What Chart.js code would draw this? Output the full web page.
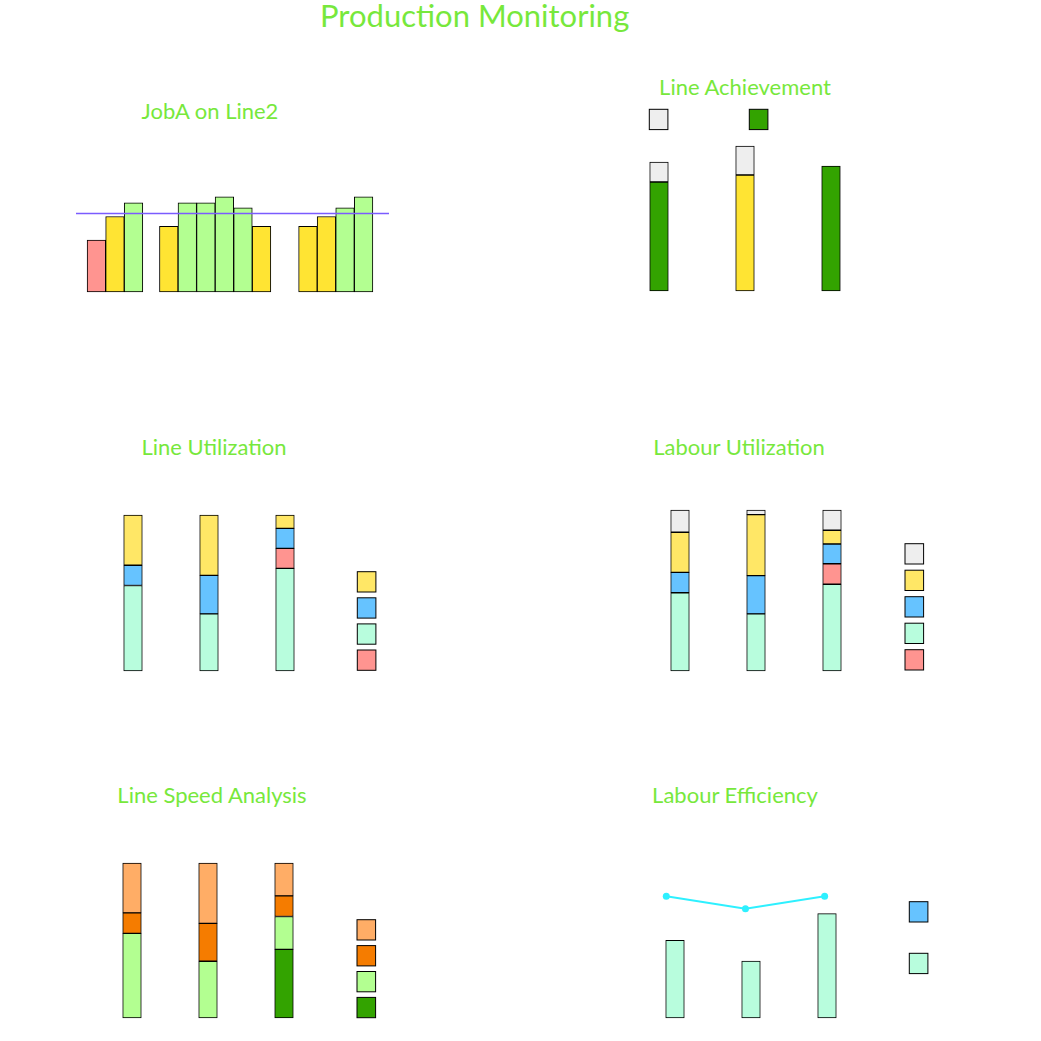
<!DOCTYPE html>
<html>
<head>
<meta charset="utf-8">
<title>Production Monitoring</title>
<script src="https://cdn.jsdelivr.net/npm/chart.js@4.4.1/dist/chart.umd.min.js"></script>
<style>
  html, body { margin: 0; padding: 0; background: #fff; }
  body { width: 1041px; height: 1041px; position: relative; overflow: hidden; font-family: Lato, "DejaVu Sans", sans-serif; }
  .title { position: absolute; color: #77e83c; text-align: center; white-space: nowrap; line-height: 1; width: 300px; }
  .sub { font-size: 22px; }
  .panel { position: absolute; }
</style>
</head>
<body>
<div class="title" style="left:320px;top:0px;font-size:31px;">Production Monitoring</div>
<div class="title sub" style="left:60px;top:100px;">JobA on Line2</div>
<div class="title sub" style="left:595px;top:76px;">Line Achievement</div>
<div class="title sub" style="left:64px;top:436px;">Line Utilization</div>
<div class="title sub" style="left:589px;top:436px;">Labour Utilization</div>
<div class="title sub" style="left:62px;top:784px;">Line Speed Analysis</div>
<div class="title sub" style="left:585px;top:784px;">Labour Efficiency</div>

<div class="panel" style="left:72px;top:190px;width:321px;height:106px"><canvas id="jobChart"></canvas></div>
<div class="panel" style="left:612px;top:104px;width:266px;height:191px"><canvas id="achieveChart"></canvas></div>
<div class="panel" style="left:91px;top:511px;width:289px;height:164px"><canvas id="utilChart"></canvas></div>
<div class="panel" style="left:638px;top:506px;width:290px;height:169px"><canvas id="labourChart"></canvas></div>
<div class="panel" style="left:90px;top:859px;width:290px;height:163px"><canvas id="speedChart"></canvas></div>
<div class="panel" style="left:633px;top:858px;width:299px;height:164px"><canvas id="effChart"></canvas></div>

<script>
/* =========================
   Data
========================= */
// JobA on Line2 (% of standard per run slot)
const jobSlots = [0, 1, 2, 3.9, 4.9, 5.9, 6.9, 7.9, 8.9, 11.4, 12.4, 13.4, 14.4];
const jobValues = [53, 77, 91, 67, 91, 91, 97, 86, 67, 67, 77, 86, 97];
const jobTarget = 80;
const jobXRange = [-1.1, 15.77];

// Line Achievement
const achieveLines = ["Line1", "Line2", "Line3"];
const achieveActual = [109, 116, 125];
const achieveShort = [20, 29, 0];

// Line Utilization (%)
const utilLines = ["Line1", "Line2", "Line3"];
const utilRunning = [54.8, 36.6, 65.8];
const utilBreakdown = [0, 0, 12.8];
const utilChangeover = [13.0, 24.7, 12.8];
const utilIdle = [32.2, 38.7, 8.6];

// Labour Utilization (%)
const labourLines = ["Line1", "Line2", "Line3"];
const labourWorking = [48.6, 35.5, 53.9];
const labourBreakdown = [0, 0, 12.7];
const labourChangeover = [12.7, 23.7, 12.3];
const labourIdle = [24.9, 37.9, 8.5];
const labourAbsent = [13.8, 2.9, 12.6];

// Line Speed Analysis (%)
const speedLines = ["Line1", "Line2", "Line3"];
const speedFull = [0, 0, 44.3];
const speedHigh = [54.6, 36.6, 21.2];
const speedLow = [13.2, 24.4, 13.3];
const speedSlow = [32.2, 39.0, 21.2];

// Labour Efficiency
const effLines = ["Line1", "Line2", "Line3"];
const effOutput = [49.8, 36.5, 66.9];
const effRate = [78, 70, 78];
const effXRange = [-0.37, 2.51];

/* =========================
   Colours
========================= */
const C = {
  red: "#ff9490",
  yellow: "#ffe433",
  paleYellow: "#ffe766",
  blue: "#66c3ff",
  mint: "#b8fddd",
  grey: "#eeeeee",
  green: "#33a300",
  lightGreen: "#b3ff91",
  lightOrange: "#ffad66",
  orange: "#f57c00",
  cyan: "#2ef0ff",
  violet: "#7b5cff"
};

function jobColor(v) {
  if (v < 60) return C.red;
  if (v < jobTarget) return C.yellow;
  return C.lightGreen;
}

/* =========================
   Square legend (no text)
========================= */
const boxLegend = {
  id: "boxLegend",
  afterDraw(chart, args, opts) {
    if (!opts.items) return;
    const ctx = chart.ctx;
    ctx.save();
    opts.items.forEach((di, k) => {
      const ds = chart.data.datasets[di];
      const x = opts.x + k * (opts.dx || 0);
      const y = opts.y + k * (opts.dy || 0);
      ctx.fillStyle = ds.legendColor || ds.backgroundColor;
      ctx.fillRect(x, y, 18.6, 20.3);
      ctx.strokeStyle = "#000";
      ctx.lineWidth = 1;
      ctx.strokeRect(x, y, 18.6, 20.3);
    });
    ctx.restore();
  }
};

/* =========================
   Helpers
========================= */
function bar(label, data, color, extra) {
  return Object.assign({
    type: "bar",
    label: label,
    data: data,
    backgroundColor: color,
    borderColor: "#000",
    borderWidth: 1,
    borderSkipped: false,
    barThickness: 18.6,
    clip: false,
    order: 1
  }, extra || {});
}

function options(padding, yMax, legend, stacked, extraScales) {
  return {
    responsive: true,
    maintainAspectRatio: false,
    animation: false,
    layout: { padding: padding },
    plugins: {
      legend: { display: false },
      tooltip: { enabled: false },
      boxLegend: legend || {}
    },
    scales: Object.assign({
      x: { display: false, stacked: stacked },
      y: { display: false, stacked: stacked, min: 0, max: yMax }
    }, extraScales || {})
  };
}

function stackedChart(id, labels, datasets, padding, yMax, legend) {
  return new Chart(document.getElementById(id), {
    type: "bar",
    data: { labels: labels, datasets: datasets },
    options: options(padding, yMax, legend, true),
    plugins: [boxLegend]
  });
}

/* =========================
   JobA on Line2
========================= */
const jobOpts = options(4, 100, null, false);
jobOpts.scales.x = { type: "linear", display: false, min: jobXRange[0], max: jobXRange[1], offset: false };
new Chart(document.getElementById("jobChart"), {
  type: "bar",
  data: {
    datasets: [
      {
        type: "line",
        label: "Target",
        data: jobXRange.map(x => ({ x: x, y: jobTarget })),
        borderColor: C.violet,
        borderWidth: 1.5,
        pointRadius: 0,
        order: 0
      },
      bar("Performance",
        jobSlots.map((x, i) => ({ x: x, y: jobValues[i] })),
        jobValues.map(jobColor))
    ]
  },
  options: jobOpts
});

/* =========================
   Line Achievement
========================= */
stackedChart("achieveChart", achieveLines, [
  bar("Actual", achieveActual, [C.green, C.yellow, C.green], { legendColor: C.green }),
  bar("Shortfall", achieveShort, C.grey)
], { left: 4, right: 4, top: 32, bottom: 4 }, 155,
  { items: [1, 0], x: 37.3, y: 5.3, dx: 100 });

/* =========================
   Line Utilization
========================= */
stackedChart("utilChart", utilLines, [
  bar("Running", utilRunning, C.mint),
  bar("Breakdown", utilBreakdown, C.red),
  bar("Changeover", utilChangeover, C.blue),
  bar("Idle", utilIdle, C.paleYellow)
], { left: 4, right: 57, top: 4, bottom: 4 }, 100,
  { items: [3, 2, 0, 1], x: 266.3, y: 60.7, dy: 26.1 });

/* =========================
   Labour Utilization
========================= */
stackedChart("labourChart", labourLines, [
  bar("Working", labourWorking, C.mint),
  bar("Breakdown", labourBreakdown, C.red),
  bar("Changeover", labourChangeover, C.blue),
  bar("Idle", labourIdle, C.paleYellow),
  bar("Absent", labourAbsent, C.grey)
], { left: 4, right: 58, top: 4, bottom: 4 }, 100,
  { items: [4, 3, 2, 0, 1], x: 267, y: 37.7, dy: 26.5 });

/* =========================
   Line Speed Analysis
========================= */
stackedChart("speedChart", speedLines, [
  bar("Full speed", speedFull, C.green),
  bar("High speed", speedHigh, C.lightGreen),
  bar("Low speed", speedLow, C.orange),
  bar("Slow", speedSlow, C.lightOrange)
], { left: 4, right: 58, top: 4, bottom: 4 }, 100,
  { items: [3, 2, 1, 0], x: 267, y: 60.7, dy: 25.9 });

/* =========================
   Labour Efficiency
========================= */
const effOpts = options({ left: 4, right: 67, top: 4, bottom: 4 }, 100,
  { items: [0, 1], x: 276.3, y: 43.7, dy: 51.6 }, false,
  { x2: { type: "linear", display: false, offset: false, min: effXRange[0], max: effXRange[1] } });
new Chart(document.getElementById("effChart"), {
  type: "bar",
  data: {
    labels: effLines,
    datasets: [
      {
        type: "line",
        label: "Efficiency",
        xAxisID: "x2",
        data: effRate.map((v, i) => ({ x: i, y: v })),
        borderColor: C.cyan,
        backgroundColor: C.cyan,
        legendColor: C.blue,
        borderWidth: 2,
        pointRadius: 3.5,
        pointBorderWidth: 0,
        order: 0
      },
      bar("Output", effOutput, C.mint, { grouped: false, maxBarThickness: 18.6 })
    ]
  },
  options: effOpts,
  plugins: [boxLegend]
});
</script>
</body>
</html>
